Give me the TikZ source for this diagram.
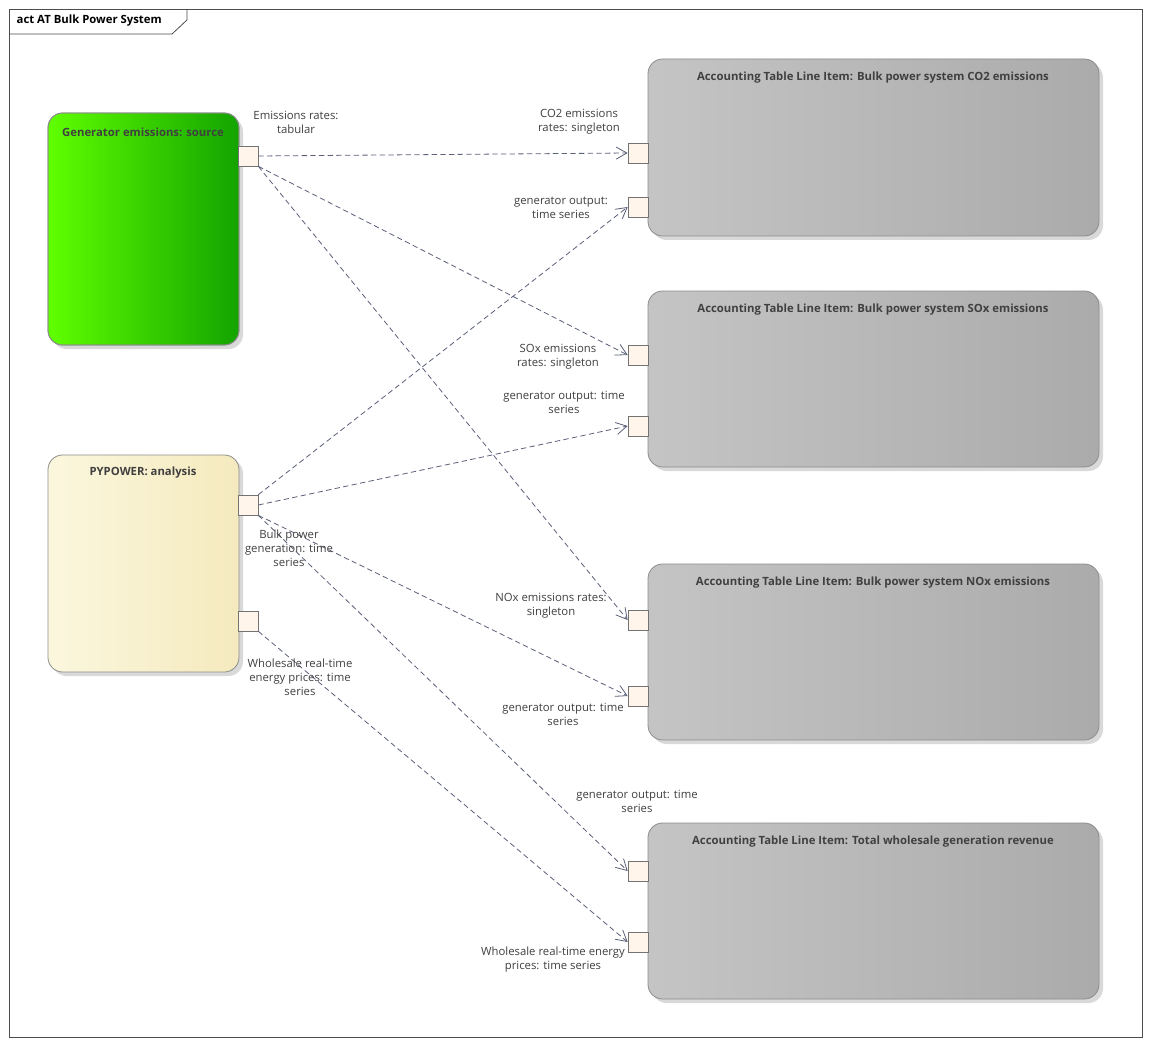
\documentclass[tikz,border=0pt]{standalone}
\usepackage{fontspec}
\setmainfont{Open Sans}
\usetikzlibrary{arrows.meta}
\definecolor{lc}{HTML}{5A6078}
\definecolor{tx}{HTML}{404040}
\tikzset{
 x=0.75pt,y=-0.75pt,
 blk/.style={rounded corners=11pt,draw=black!45,line width=0.6pt},
 port/.style={draw=black!55,fill=orange!8,minimum size=15pt,inner sep=0pt,line width=0.5pt},
 flow/.style={draw=lc,dashed,dash pattern=on 4pt off 2.5pt,line width=0.6pt,-{Straight Barb[length=8pt,width=9pt]}},
 lbl/.style={font=\fontsize{8.5}{10.5}\selectfont,text=tx,align=center,inner sep=1pt},
 ttl/.style={font=\fontsize{8.5}{10}\selectfont\bfseries,text=tx},
}
\begin{document}
\begin{tikzpicture}
\useasboundingbox (0,0) rectangle (1150,1045);
\fill[white] (0,0) rectangle (1150,1045);
\draw[black!70,line width=0.6pt] (9,9) rectangle (1142,1037);
\draw[black!70,line width=0.6pt] (9,34) -- (172,34) -- (187,20) -- (187,9);
\node[anchor=west,font=\fontsize{8.5}{10}\selectfont\bfseries] (frame) at (12,21) {act AT Bulk Power System};
% shadows
\foreach \a/\b/\c/\d in {48/113/239/345,48/455/239/672,648/59/1099/236,648/291/1099/467,648/564/1099/740,648/823/1099/999}
  \fill[black!15,rounded corners=11pt] (\a+4,\b+4) rectangle (\c+4,\d+4);
% blocks
\shade[blk,left color=green!50!lime,right color=green!60!black!90!lime,rounded corners=11pt] (48,113) rectangle (239,345);
\draw[blk] (48,113) rectangle (239,345);
\node[ttl] (gen) at (143,132) {Generator emissions: source};
\shade[rounded corners=11pt,left color={rgb,255:red,251;green,247;blue,222},right color={rgb,255:red,245;green,234;blue,190}] (48,455) rectangle (239,672);
\draw[blk] (48,455) rectangle (239,672);
\node[ttl] (pyp) at (143,473) {PYPOWER: analysis};
\foreach \n/\b/\d/\t in {co/59/236/{Accounting Table Line Item: Bulk power system CO2 emissions},so/291/467/{Accounting Table Line Item: Bulk power system SOx emissions},no/564/740/{Accounting Table Line Item: Bulk power system NOx emissions},rev/823/999/{Accounting Table Line Item: Total wholesale generation revenue}}{
 \shade[rounded corners=11pt,left color=black!23,right color=black!33] (648,\b) rectangle (1099,\d);
 \draw[blk] (648,\b) rectangle (1099,\d);
 \node[ttl] (\n) at (873,\b+19) {\t};
}
% ports
\node[port] (pe) at (248,156) {};
\node[port] (pb) at (248,505) {};
\node[port] (pw) at (248,621) {};
\node[port] (coR) at (638,153) {};
\node[port] (coG) at (638,207) {};
\node[port] (soR) at (638,355) {};
\node[port] (soG) at (638,426) {};
\node[port] (noR) at (638,620) {};
\node[port] (noG) at (638,696) {};
\node[port] (rvG) at (638,871) {};
\node[port] (rvW) at (638,942) {};
% flows
\draw[flow] (pe.east) -- (coR.west);
\draw[flow] (pe.south east) -- (soR.west);
\draw[flow] (pe.south east) -- (noR.west);
\draw[flow] (pb.north east) -- (coG.west);
\draw[flow] (pb.east) -- (soG.west);
\draw[flow] (pb.south east) -- (noG.west);
\draw[flow] (pb.south east) -- (rvG.west);
\draw[flow] (pw.south east) -- (rvW.west);
% labels
\node[lbl] (l1) at (296,122) {Emissions rates:\\tabular};
\node[lbl] (l2) at (289,548) {Bulk power\\generation: time\\series};
\node[lbl] (l3) at (300,677) {Wholesale real-time\\energy prices: time\\series};
\node[lbl] (l4) at (579,122) {CO2 emissions\\rates: singleton};
\node[lbl] (l5) at (561,208) {generator output:\\time series};
\node[lbl] (l6) at (558,357) {SOx emissions\\rates: singleton};
\node[lbl] (l7) at (564,402) {generator output: time\\series};
\node[lbl] (l8) at (551,606) {NOx emissions rates:\\singleton};
\node[lbl] (l9) at (563,714) {generator output: time\\series};
\node[lbl] (l10) at (637,801) {generator output: time\\series};
\node[lbl] (l11) at (553,960) {Wholesale real-time energy\\prices: time series};
\end{tikzpicture}
\end{document}
